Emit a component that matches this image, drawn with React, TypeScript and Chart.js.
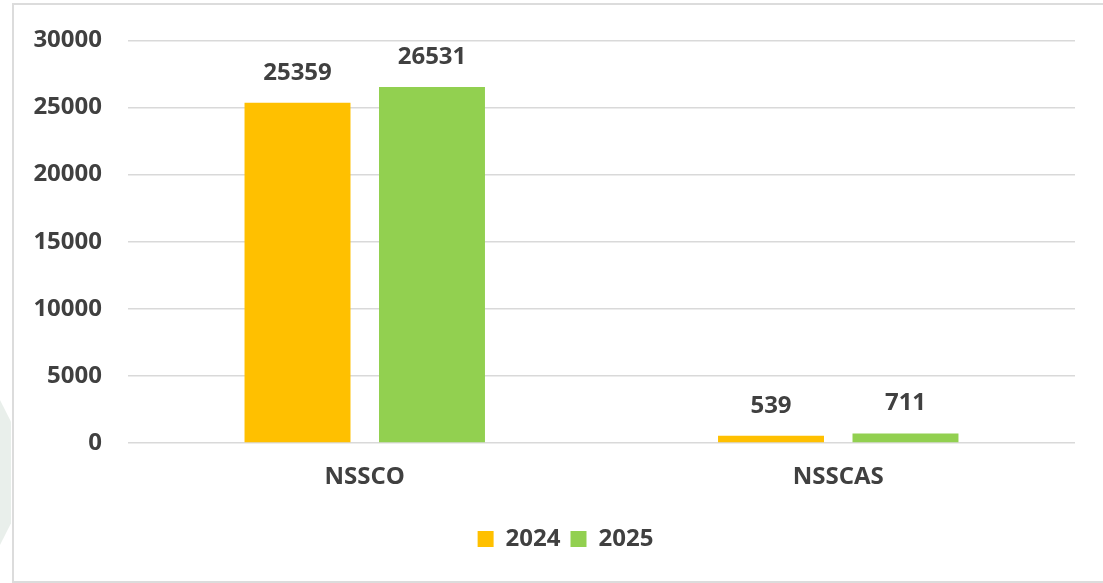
import React, { useEffect, useRef } from "react";
import { Chart, registerables } from "chart.js";

Chart.register(...registerables);

const categories = ["NSSCO", "NSSCAS"];
const series2024 = [25359, 539];
const series2025 = [26531, 711];
const seriesLabels = ["2024", "2025"];
const yTicks = [0, 5000, 10000, 15000, 20000, 25000, 30000];

const FONT = "'Open Sans', sans-serif";
const TEXT = "#404040";
const FS = 24;

const dataLabelPlugin = {
  id: "dataLabels",
  afterDatasetsDraw(chart: any) {
    const ctx = chart.ctx;
    ctx.save();
    ctx.font = `bold ${FS}px ${FONT}`;
    ctx.fillStyle = TEXT;
    ctx.textAlign = "center";
    ctx.textBaseline = "middle";
    chart.data.datasets.forEach((ds: any, i: number) => {
      const meta = chart.getDatasetMeta(i);
      meta.data.forEach((el: any, j: number) => {
        ctx.fillText(String(ds.data[j]), el.x, el.y - 30);
      });
    });
    ctx.restore();
  },
};

const legendShiftPlugin = {
  id: "legendShift",
  afterLayout(chart: any) {
    const lg = chart.legend;
    if (lg) {
      lg.left += 28;
      lg.right += 28;
    }
  },
};

export default function App() {
  const ref = useRef<HTMLCanvasElement | null>(null);
  useEffect(() => {
    document.body.style.margin = "0";
    const chart = new Chart(ref.current as HTMLCanvasElement, {
      type: "bar",
      data: {
        labels: categories,
        datasets: [
          {
            label: seriesLabels[0],
            data: series2024,
            backgroundColor: "#FFC000",
            categoryPercentage: 0.568,
            barPercentage: 0.788,
          },
          {
            label: seriesLabels[1],
            data: series2025,
            backgroundColor: "#92D050",
            categoryPercentage: 0.568,
            barPercentage: 0.788,
          },
        ],
      },
      options: {
        animation: false,
        responsive: false,
        maintainAspectRatio: false,
        layout: { padding: { left: 0, right: 28, top: 33.6, bottom: 22 } },
        plugins: {
          tooltip: { enabled: false },
          legend: {
            position: "bottom",
            labels: {
              boxWidth: 16,
              boxHeight: 16,
              padding: 10,
              color: TEXT,
              font: { family: FONT, size: FS, weight: "bold", lineHeight: 1 },
            },
          },
        },
        scales: {
          x: {
            grid: { display: false, drawTicks: false },
            border: { display: false },
            ticks: {
              color: TEXT,
              padding: 20,
              font: { family: FONT, size: FS, weight: "bold" },
            },
            afterFit: (scale: any) => {
              scale.height = 74;
            },
          },
          y: {
            min: 0,
            max: 30000,
            afterBuildTicks: (scale: any) => {
              scale.ticks = yTicks.map((v) => ({ value: v }));
            },
            grid: { color: "#d9d9d9", lineWidth: 1.5, drawTicks: false },
            border: { display: false },
            ticks: {
              color: TEXT,
              padding: 26,
              font: { family: FONT, size: FS, weight: "bold" },
              callback: (v: any) => String(v),
            },
            afterFit: (scale: any) => {
              scale.width = 128;
            },
          },
        },
      },
      plugins: [dataLabelPlugin, legendShiftPlugin],
    } as any);
    return () => chart.destroy();
  }, []);

  return (
    <div style={{ position: "relative", width: 1103, height: 583, overflow: "hidden", background: "#fff" }}>
      <div
        style={{
          position: "absolute",
          left: 0,
          top: 400,
          width: 11,
          height: 145,
          background: "#e9efeb",
          clipPath: "polygon(0 0, 100% 15%, 100% 85%, 0 100%)",
        }}
      />
      <div
        style={{
          position: "absolute",
          left: 12,
          top: 3,
          width: 1110,
          height: 576,
          border: "2px solid #dcdcdc",
        }}
      />
      <canvas ref={ref} width={1103} height={583} style={{ position: "absolute", left: 0, top: 0 }} />
    </div>
  );
}
